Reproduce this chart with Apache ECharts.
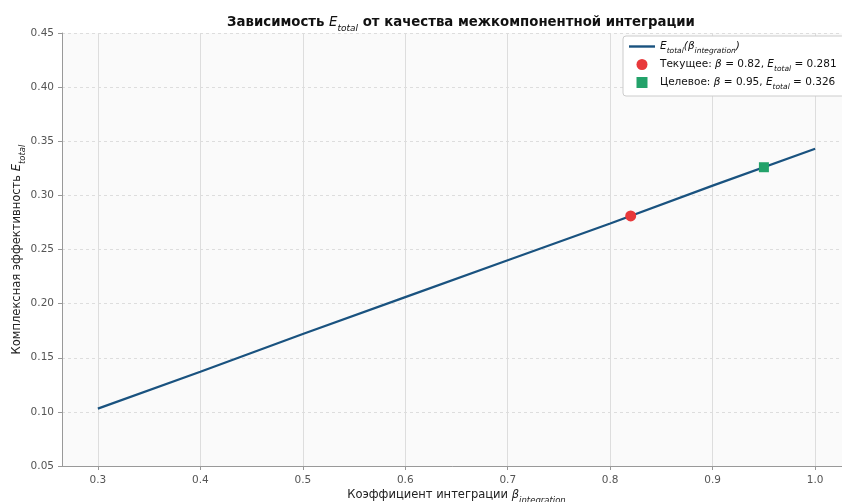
<!DOCTYPE html>
<html>
<head>
<meta charset="utf-8">
<script src="https://cdn.jsdelivr.net/npm/echarts@6/dist/echarts.min.js"></script>
<style>
  html, body { margin: 0; padding: 0; background: #fff; }
  #chart { width: 842px; height: 502px; }
</style>
</head>
<body>
<div id="chart"></div>
<script>
// Integration coefficient and the resulting total efficiency
const beta = [0.3, 0.4, 0.5, 0.6, 0.7, 0.8, 0.9, 1.0];
const eTotal = [0.103, 0.137, 0.172, 0.206, 0.240, 0.274, 0.309, 0.343];

// Current and target operating points [beta, E_total]
const currentPoint = [0.82, 0.281];
const targetPoint = [0.95, 0.326];

const xTicks = [0.3, 0.4, 0.5, 0.6, 0.7, 0.8, 0.9, 1.0];

const FONT = '"DejaVu Sans", "Noto Sans", sans-serif';

const chart = echarts.init(document.getElementById('chart'), null, { renderer: 'canvas' });

chart.setOption({
  backgroundColor: '#ffffff',
  animation: false,
  title: {
    text: 'Зависимость {e|E}{sub|total} от качества межкомпонентной интеграции',
    left: 456,
    textAlign: 'center',
    top: 11,
    textStyle: {
      fontFamily: FONT, fontSize: 13.3, fontWeight: 'bold', color: '#111',
      rich: {
        e: { fontFamily: FONT, fontSize: 13.3, fontStyle: 'italic', fontWeight: 'normal', color: '#111' },
        sub: { fontFamily: FONT, fontSize: 9, fontStyle: 'italic', fontWeight: 'normal', color: '#111', verticalAlign: 'bottom', padding: [0, 0, -4, 0] }
      }
    }
  },
  grid: {
    left: 62, right: -9, top: 33, bottom: 36,
    outerBoundsMode: 'none',
    containLabel: false,
    show: true, backgroundColor: '#fafafa', borderWidth: 0
  },
  xAxis: {
    type: 'value',
    min: 0.265,
    max: 1.035,
    name: 'Коэффициент интеграции {b|β}{sub|integration}',
    nameLocation: 'middle',
    nameGap: 23,
    nameMoveOverlap: false,
    nameTextStyle: {
      fontFamily: FONT, fontSize: 11.5, color: '#222',
      rich: {
        b: { fontFamily: FONT, fontSize: 11.5, fontStyle: 'italic', color: '#222' },
        sub: { fontFamily: FONT, fontSize: 8.5, fontStyle: 'italic', color: '#222', verticalAlign: 'bottom', padding: [0, 0, -4, 0] }
      }
    },
    axisLine: { show: true, lineStyle: { color: '#999', width: 1 } },
    axisTick: { show: true, customValues: xTicks, length: 4, lineStyle: { color: '#999' } },
    axisLabel: {
      customValues: xTicks,
      formatter: v => v.toFixed(1),
      fontFamily: FONT, fontSize: 10.5, color: '#555', margin: 9
    },
    splitLine: { show: true, lineStyle: { color: '#dddddd', width: 1, type: 'solid' } }
  },
  yAxis: {
    type: 'value',
    min: 0.05,
    max: 0.45,
    interval: 0.05,
    name: 'Комплексная эффективность {e|E}{sub|total}',
    nameLocation: 'middle',
    nameRotate: 90,
    nameGap: 39,
    nameMoveOverlap: false,
    nameTextStyle: {
      fontFamily: FONT, fontSize: 11.5, color: '#222',
      rich: {
        e: { fontFamily: FONT, fontSize: 11.5, fontStyle: 'italic', color: '#222' },
        sub: { fontFamily: FONT, fontSize: 8.5, fontStyle: 'italic', color: '#222', verticalAlign: 'bottom', padding: [0, 0, -4, 0] }
      }
    },
    axisLine: { show: true, lineStyle: { color: '#999', width: 1 } },
    axisTick: { show: true, length: 4, lineStyle: { color: '#999' } },
    axisLabel: { formatter: v => v.toFixed(2), fontFamily: FONT, fontSize: 10.5, color: '#555', margin: 8 },
    splitLine: { show: true, lineStyle: { color: '#dddddd', width: 1, type: [3, 3] } }
  },
  legend: {
    orient: 'vertical',
    left: 623,
    top: 36,
    padding: [5, 8, 5, 6],
    itemGap: 4,
    itemWidth: 26,
    itemHeight: 11,
    symbolKeepAspect: true,
    backgroundColor: '#ffffff',
    borderColor: '#cccccc',
    borderWidth: 1,
    borderRadius: 3,
    textStyle: {
      fontFamily: FONT, fontSize: 10.5, color: '#111',
      rich: {
        i: { fontFamily: FONT, fontSize: 10.5, fontStyle: 'italic', color: '#111' },
        sub: { fontFamily: FONT, fontSize: 7.5, fontStyle: 'italic', color: '#111', verticalAlign: 'bottom', padding: [0, 0, -3, 0] }
      }
    },
    data: [
      { name: 'curve', icon: 'path://M0,0 L26,0 L26,2.4 L0,2.4 Z' },
      { name: 'current', icon: 'circle' },
      { name: 'target', icon: 'path://M0,0 L10,0 L10,10 L0,10 Z' }
    ],
    formatter: function (name) {
      if (name === 'curve') return '{i|E}{sub|total}{i|(β}{sub|integration}{i|)}';
      if (name === 'current') return 'Текущее: {i|β} = ' + currentPoint[0].toFixed(2) + ', {i|E}{sub|total} = ' + currentPoint[1].toFixed(3);
      return 'Целевое: {i|β} = ' + targetPoint[0].toFixed(2) + ', {i|E}{sub|total} = ' + targetPoint[1].toFixed(3);
    }
  },
  series: [
    {
      name: 'curve',
      type: 'line',
      data: beta.map((b, i) => [b, eTotal[i]]),
      showSymbol: false,
      symbol: 'none',
      lineStyle: { color: '#19527f', width: 2.2 },
      itemStyle: { color: '#19527f' },
      z: 2
    },
    {
      name: 'current',
      type: 'scatter',
      data: [currentPoint],
      symbol: 'circle',
      symbolSize: 11,
      itemStyle: { color: '#e8393b', opacity: 1 },
      z: 5
    },
    {
      name: 'target',
      type: 'scatter',
      data: [targetPoint],
      symbol: 'rect',
      symbolSize: 10,
      itemStyle: { color: '#23a26a', opacity: 1 },
      z: 5
    }
  ]
});
</script>
</body>
</html>
